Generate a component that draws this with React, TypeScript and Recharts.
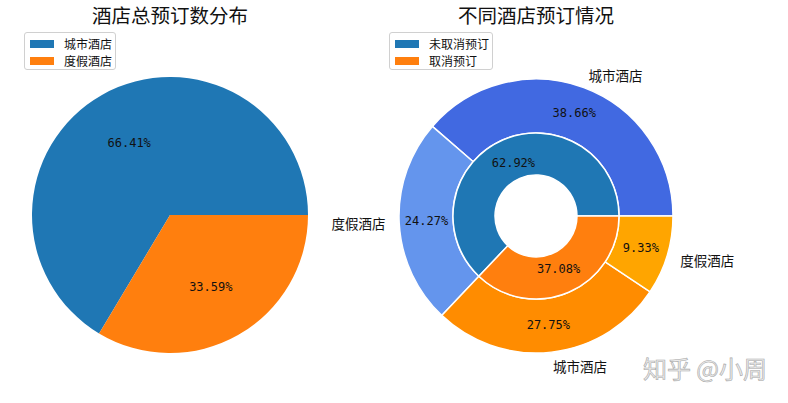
import React from "react";
import { PieChart, Pie, Cell } from "recharts";

// left: share of all bookings by hotel type
const hotelTypes = ["城市酒店", "度假酒店"];
const totalShare = [66.41, 33.59];
const totalColors = ["#1f77b4", "#ff7f0e"];

// right inner ring: cancelled vs not cancelled
const cancelLabels = ["未取消预订", "取消预订"];
const cancelShare = [62.92, 37.08];
const cancelColors = ["#1f77b4", "#ff7f0e"];

// right outer ring: hotel type within each group
const detailLabels = ["城市酒店", "度假酒店", "城市酒店", "度假酒店"];
const detailShare = [38.66, 24.27, 27.75, 9.33];
const detailColors = ["#4169e1", "#6495ed", "#ff8c00", "#ffa500"];

const W = 788;
const H = 403;
const M = 5; // recharts default margin, pie centres are measured from it
const RAD = Math.PI / 180;
const CJK = '"Noto Sans CJK SC", "Noto Sans", sans-serif';
const MONO = '"DejaVu Sans Mono", "Liberation Mono", monospace';

const totalData = hotelTypes.map((name, i) => ({ name, value: totalShare[i] }));
const cancelData = cancelLabels.map((name, i) => ({ name, value: cancelShare[i] }));
const detailData = detailLabels.map((name, i) => ({ name, value: detailShare[i] }));

function pctLabel(dist: number, withName: boolean) {
  return (p: any) => {
    const { cx, cy, midAngle, outerRadius, value, name } = p;
    const cos = Math.cos(-midAngle * RAD);
    const sin = Math.sin(-midAngle * RAD);
    const r = outerRadius * dist;
    const r2 = outerRadius * 1.1;
    const lx = cx + r2 * cos;
    const ly = cy + r2 * sin;
    return (
      <g>
        <text
          x={cx + r * cos}
          y={cy + r * sin}
          textAnchor="middle"
          dominantBaseline="central"
          fontFamily={MONO}
          fontSize={12}
          fill="#111"
        >
          {Number(value).toFixed(2)}%
        </text>
        {withName && (
          <text
            x={lx}
            y={ly}
            textAnchor={lx >= cx ? "start" : "end"}
            dominantBaseline="central"
            fontFamily={CJK}
            fontSize={13.5}
            fill="#111"
          >
            {name}
          </text>
        )}
      </g>
    );
  };
}

function LegendBox({ left, width, labels, colors }: { left: number; width: number; labels: string[]; colors: string[] }) {
  return (
    <div
      style={{
        position: "absolute",
        left,
        top: 32,
        width,
        height: 38,
        boxSizing: "border-box",
        border: "1px solid #d0d0d0",
        borderRadius: 3,
        background: "rgba(255,255,255,0.8)",
        fontFamily: CJK,
        fontSize: 12,
        color: "#111",
      }}
    >
      {labels.map((l, i) => (
        <div key={l} style={{ position: "absolute", left: 5, top: 4 + i * 17, height: 14, display: "flex", alignItems: "center" }}>
          <span style={{ width: 24, height: 8, background: colors[i], display: "inline-block" }} />
          <span style={{ marginLeft: 10, lineHeight: "14px" }}>{l}</span>
        </div>
      ))}
    </div>
  );
}

export default function App() {
  return (
    <div style={{ position: "fixed", left: 0, top: 0, width: W, height: H, background: "#fff" }}>
      <PieChart width={W} height={H}>
        <Pie
          data={totalData}
          dataKey="value"
          nameKey="name"
          cx={170 - M}
          cy={215 - M}
          outerRadius={138}
          startAngle={0}
          endAngle={360}
          stroke="none"
          label={pctLabel(0.6, false)}
          labelLine={false}
          isAnimationActive={false}
        >
          {totalData.map((d, i) => (
            <Cell key={i} fill={totalColors[i]} />
          ))}
        </Pie>
        <Pie
          data={detailData}
          dataKey="value"
          nameKey="name"
          cx={536 - M}
          cy={216 - M}
          innerRadius={83}
          outerRadius={137}
          startAngle={0}
          endAngle={360}
          stroke="#fff"
          strokeWidth={1.5}
          label={pctLabel(0.8, true)}
          labelLine={false}
          isAnimationActive={false}
        >
          {detailData.map((d, i) => (
            <Cell key={i} fill={detailColors[i]} />
          ))}
        </Pie>
        <Pie
          data={cancelData}
          dataKey="value"
          nameKey="name"
          cx={536 - M}
          cy={216 - M}
          innerRadius={41}
          outerRadius={83}
          startAngle={0}
          endAngle={360}
          stroke="#fff"
          strokeWidth={1.5}
          label={pctLabel(0.69, false)}
          labelLine={false}
          isAnimationActive={false}
        >
          {cancelData.map((d, i) => (
            <Cell key={i} fill={cancelColors[i]} />
          ))}
        </Pie>
        <text x={170} y={14} textAnchor="middle" dominantBaseline="central" fontFamily={CJK} fontSize={19.5} fill="#111">
          酒店总预订数分布
        </text>
        <text x={536} y={14} textAnchor="middle" dominantBaseline="central" fontFamily={CJK} fontSize={19.5} fill="#111">
          不同酒店预订情况
        </text>
        <text
          x={705}
          y={367}
          textAnchor="middle"
          dominantBaseline="central"
          fontFamily={CJK}
          fontSize={24}
          fill="#ececec"
          stroke="#a8a8a8"
          strokeWidth={0.6}
        >
          知乎 @小周
        </text>
      </PieChart>
      <LegendBox left={24} width={92} labels={hotelTypes} colors={totalColors} />
      <LegendBox left={389} width={104} labels={cancelLabels} colors={cancelColors} />
    </div>
  );
}
